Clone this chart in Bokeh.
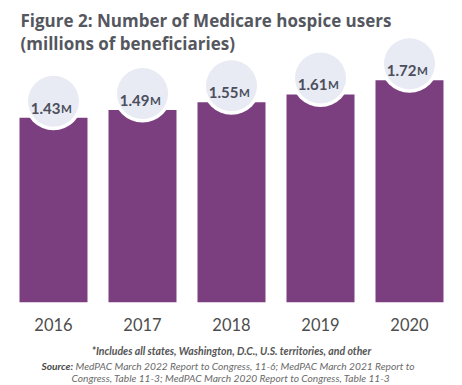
from bokeh.plotting import figure
from bokeh.models import Range1d, FactorRange, Label, ColumnDataSource
from bokeh.core.properties import value
from bokeh.embed import file_html
from bokeh.resources import INLINE

# ---- data ----
years = ["2016", "2017", "2018", "2019", "2020"]
users = [1.43, 1.49, 1.55, 1.61, 1.72]
value_labels = ["1.43", "1.49", "1.55", "1.61", "1.72"]
unit_labels = ["M", "M", "M", "M", "M"]

title_lines = ["Figure 2: Number of Medicare hospice users", "(millions of beneficiaries)"]
footnote = "*Includes all states, Washington, D.C., U.S. territories, and other"
source_head = "Source:"
source_line1 = "MedPAC March 2022 Report to Congress, 11-6; MedPAC March 2021 Report to"
source_line2 = "Congress, Table 11-3; MedPAC March 2020 Report to Congress, Table 11-3"

# ---- layout constants ----
W, H = 462, 385
FONT = "Lato"
TFONT = "Open Sans"
PURPLE = "#7b3f80"
CIRCLE = "#e8eaf4"
DARK = "#4b4f5c"

PX_PER_UNIT = 129.0
BASE_Y = 301.7  # canvas y of zero line
y_end = BASE_Y / PX_PER_UNIT
y_start = -(H - BASE_Y) / PX_PER_UNIT


def data_y(sy):
    return (BASE_Y - sy) / PX_PER_UNIT


p = figure(width=W, height=H,
           x_range=FactorRange(*years, range_padding=0.0955, range_padding_units="absolute"),
           y_range=Range1d(y_start, y_end), output_backend="svg",
           toolbar_location=None, min_border=0)
p.axis.visible = False
p.grid.visible = False
p.outline_line_color = None
p.background_fill_color = "white"
p.border_fill_color = "white"

src = ColumnDataSource(dict(
    year=years, users=users,
    circ=[u + 0.128 for u in users],
    vlab=value_labels, ulab=unit_labels,
    ylab=[data_y(324)] * len(years),
))

p.vbar(x="year", top="users", bottom=0, width=0.764, fill_color=PURPLE,
       line_color=None, source=src)
p.scatter(x="year", y="circ", size=58, marker="circle", fill_color="white",
          line_color=None, source=src)
p.scatter(x="year", y="circ", size=51, marker="circle", fill_color=CIRCLE,
          line_color=None, source=src)
p.text(x="year", y="circ", text="vlab", source=src, text_align="right",
       text_baseline="alphabetic", x_offset=7, y_offset=7,
       text_font=value(FONT), text_font_style="bold", text_font_size="15px",
       text_color=DARK)
p.text(x="year", y="circ", text="ulab", source=src, text_align="left",
       text_baseline="alphabetic", x_offset=7.5, y_offset=7,
       text_font=value(FONT), text_font_style="bold", text_font_size="11.5px",
       text_color=DARK)
p.text(x="year", y="ylab", text="year", source=src, text_align="center",
       text_baseline="alphabetic", text_font=value(FONT),
       text_font_size="16.5px", text_color="#4d4d4d")


def lab(text, sx, sy, size, style, color, align="left", font=FONT):
    p.add_layout(Label(x=sx, y=H - sy, x_units="screen", y_units="screen",
                       text=text, text_font=font, text_font_size=size,
                       text_font_style=style, text_color=color, text_align=align,
                       text_baseline="alphabetic"))


lab(title_lines[0], 20, 19.5, "17px", "bold", "#55575f", font=TFONT)
lab(title_lines[1], 20, 43, "17px", "bold", "#55575f", font=TFONT)
lab(footnote, 231, 350, "10.5px", "bold italic", "#555555", "center")
lab(source_head, 41, 365.5, "10.2px", "bold italic", "#4a4a4a")
lab(source_line1, 75, 365.5, "10.2px", "italic", "#6a6a6a")
lab(source_line2, 230.5, 377, "10.2px", "italic", "#6a6a6a", "center")

open("out.html", "w").write(file_html(p, INLINE))
